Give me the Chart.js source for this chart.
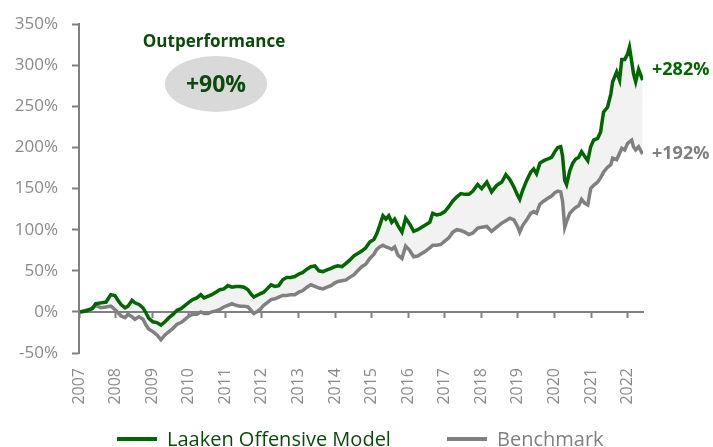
<!DOCTYPE html>
<html><head><meta charset="utf-8">
<script src="https://cdn.jsdelivr.net/npm/chart.js@4.4.1/dist/chart.umd.min.js"></script>
<style>
html,body{margin:0;padding:0;background:#fff;overflow:hidden;}
#wrap{position:relative;width:713px;height:447px;overflow:hidden;}
#c{position:absolute;left:0;top:0;}
.lgt{position:absolute;font-family:"Open Sans",sans-serif;font-size:20px;line-height:20px;white-space:nowrap;}
.lgm{position:absolute;height:4px;width:40px;}
</style></head><body>
<div id="wrap"><canvas id="c" width="713" height="447"></canvas><div id="legend"></div></div>
<script>
const seriesNames = ['Laaken Offensive Model', 'Benchmark'];
const dates = [
 2007.03,2007.19,2007.36,2007.46,2007.60,2007.74,2007.87,2007.98,2008.07,2008.15,
 2008.26,2008.34,2008.45,2008.53,2008.64,2008.75,2008.83,2008.91,2009.02,2009.13,
 2009.24,2009.35,2009.46,2009.57,2009.68,2009.79,2009.90,2010.01,2010.11,2010.22,
 2010.33,2010.42,2010.52,2010.63,2010.74,2010.85,2010.96,2011.07,2011.18,2011.29,
 2011.40,2011.51,2011.62,2011.70,2011.78,2011.86,2011.95,2012.05,2012.14,2012.25,
 2012.36,2012.46,2012.57,2012.68,2012.79,2012.90,2013.01,2013.12,2013.23,2013.34,
 2013.45,2013.56,2013.67,2013.78,2013.89,2013.99,2014.08,2014.19,2014.30,2014.40,
 2014.51,2014.62,2014.73,2014.84,2014.95,2015.06,2015.14,2015.22,2015.31,2015.39,
 2015.47,2015.55,2015.63,2015.72,2015.83,2015.93,2016.04,2016.15,2016.26,2016.37,
 2016.48,2016.59,2016.67,2016.78,2016.89,2017.00,2017.11,2017.22,2017.33,2017.44,
 2017.55,2017.66,2017.77,2017.90,2018.01,2018.15,2018.28,2018.42,2018.56,2018.67,
 2018.78,2018.89,2018.99,2019.05,2019.13,2019.24,2019.35,2019.43,2019.51,2019.60,
 2019.71,2019.81,2019.92,2020.01,2020.09,2020.17,2020.22,2020.28,2020.33,2020.42,
 2020.50,2020.58,2020.66,2020.74,2020.83,2020.91,2020.99,2021.07,2021.18,2021.26,
 2021.34,2021.45,2021.54,2021.59,2021.70,2021.78,2021.84,2021.92,2022.00,2022.05,
 2022.11,2022.16,2022.22,2022.30,2022.36,2022.41
];
const model = [
 0,1,4,10,11,12,21,20,14,9,
 5,7,14,11,9,5,-1,-8,-12,-13,
 -16,-12,-7,-3,2,4,8,12,15,17,
 21,17,19,21,24,27,28,32,30,31,
 31,30,27,22,18,20,22,24,28,33,
 31,32,39,42,42,43,46,48,52,55,
 56,50,49,51,53,55,56,55,59,63,
 68,71,74,78,85,88,95,105,117,113,
 117,109,113,105,97,114,107,98,100,103,
 106,109,120,118,119,122,128,135,140,144,
 143,143,147,155,150,158,146,154,158,167,
 161,152,142,137,148,160,170,174,168,181,
 184,186,188,195,200,201,190,160,155,172,
 181,186,188,195,189,184,201,209,211,219,
 243,249,265,280,292,282,307,307,314,322,
 305,290,280,295,288,282
];
const benchmark = [
 0,2,4,8,5,6,7,3,-1,-5,
 -7,-3,-6,-9,-6,-9,-16,-21,-24,-28,
 -34,-28,-24,-20,-15,-13,-9,-5,-3,-3,
 0,-2,-2,0,1,3,6,8,10,8,
 7,7,6,2,-2,0,3,8,11,15,
 16,18,20,20,21,21,24,26,30,33,
 31,29,28,30,32,35,37,38,39,42,
 45,50,55,58,65,70,76,79,81,79,
 78,76,79,69,65,80,75,67,68,71,
 74,78,81,81,82,86,90,97,100,99,
 97,94,96,102,103,104,98,103,108,111,
 114,112,104,97,105,112,120,122,120,131,
 135,138,141,145,147,146,135,103,110,120,
 124,127,129,137,132,130,150,154,158,163,
 170,176,179,187,185,193,199,197,205,207,
 209,201,197,201,196,192
];
const outperformanceLabel = 'Outperformance';
const outperformanceValue = '+90%';
const endLabels = ['+282%', '+192%'];

const GREEN = '#006600', DARKGREEN = '#0c4a0c', GRAY = '#808080', LABEL = '#8a8a8a';
const FONT = '"Open Sans", sans-serif';

const annot = {
  id: 'annot',
  afterDraw(chart) {
    const ctx = chart.ctx;
    ctx.save();
    ctx.fillStyle = '#d9d9d9';
    ctx.beginPath();
    ctx.ellipse(216, 84, 51, 28, 0, 0, Math.PI * 2);
    ctx.fill();
    ctx.textAlign = 'center';
    ctx.textBaseline = 'middle';
    ctx.fillStyle = DARKGREEN;
    ctx.font = 'bold 17px ' + FONT;
    ctx.fillText(outperformanceLabel, 214, 42);
    ctx.font = 'bold 23px ' + FONT;
    ctx.fillText(outperformanceValue, 216, 85);
    ctx.textAlign = 'left';
    ctx.font = 'bold 18px ' + FONT;
    ctx.fillStyle = GREEN;
    ctx.fillText(endLabels[0], 652, 70);
    ctx.fillStyle = GRAY;
    ctx.fillText(endLabels[1], 652, 154);
    ctx.restore();
  }
};

const chart = new Chart(document.getElementById('c'), {
  type: 'line',
  data: {
    datasets: [
      { label: seriesNames[0], data: dates.map((d, i) => ({x: d, y: model[i]})),
        borderColor: GREEN, borderWidth: 3.5, pointRadius: 0, tension: 0,
        fill: '+1', backgroundColor: '#f2f2f2', xAxisID: 'x', yAxisID: 'y' },
      { label: seriesNames[1], data: dates.map((d, i) => ({x: d, y: benchmark[i]})),
        borderColor: GRAY, borderWidth: 3.5, pointRadius: 0, tension: 0,
        fill: false, xAxisID: 'x', yAxisID: 'y' }
    ]
  },
  options: {
    responsive: false, animation: false, devicePixelRatio: 1,
    layout: { padding: { left: 0, right: 70, top: 22, bottom: 34 } },
    plugins: { legend: { display: false }, tooltip: { enabled: false }, filler: { drawTime: 'beforeDraw' } },
    scales: {
      x: { type: 'linear', position: 'bottom', min: 2007, max: 2022.42,
        afterFit: s => { s.height = 60; },
        grid: { display: false, drawTicks: false }, border: { display: false },
        ticks: { stepSize: 1, includeBounds: false, autoSkip: false, minRotation: 90, maxRotation: 90,
          padding: 15, color: LABEL, font: { family: FONT, size: 16 }, callback: v => String(v) } },
      x0: { type: 'linear', position: { y: 0 }, min: 2007, max: 2022.42,
        afterFit: s => { s.height = 0; },
        grid: { drawOnChartArea: false, drawTicks: true, tickLength: 5, tickWidth: 2, tickColor: GRAY },
        border: { color: GRAY, width: 2 },
        ticks: { display: false, stepSize: 1, includeBounds: false } },
      y: { type: 'linear', min: -50, max: 350,
        afterFit: s => { s.width = 79; },
        grid: { drawOnChartArea: false, tickLength: 7, tickWidth: 2, tickColor: GRAY },
        border: { color: GRAY, width: 2 },
        ticks: { stepSize: 50, padding: 14, color: LABEL, font: { family: FONT, size: 17 }, callback: v => v + '%' } }
    }
  },
  plugins: [annot]
});

// HTML legend built from the chart's datasets
const lg = document.getElementById('legend');
const lgPos = [117, 447];
const lgText = [DARKGREEN, GRAY];
chart.data.datasets.forEach((ds, i) => {
  const m = document.createElement('div');
  m.className = 'lgm'; m.style.left = lgPos[i] + 'px'; m.style.top = '437px'; m.style.background = ds.borderColor;
  const t = document.createElement('div');
  t.className = 'lgt'; t.style.left = (lgPos[i] + 50) + 'px'; t.style.top = '429px'; t.style.color = lgText[i];
  t.textContent = ds.label;
  lg.appendChild(m); lg.appendChild(t);
});
</script>
</body></html>
